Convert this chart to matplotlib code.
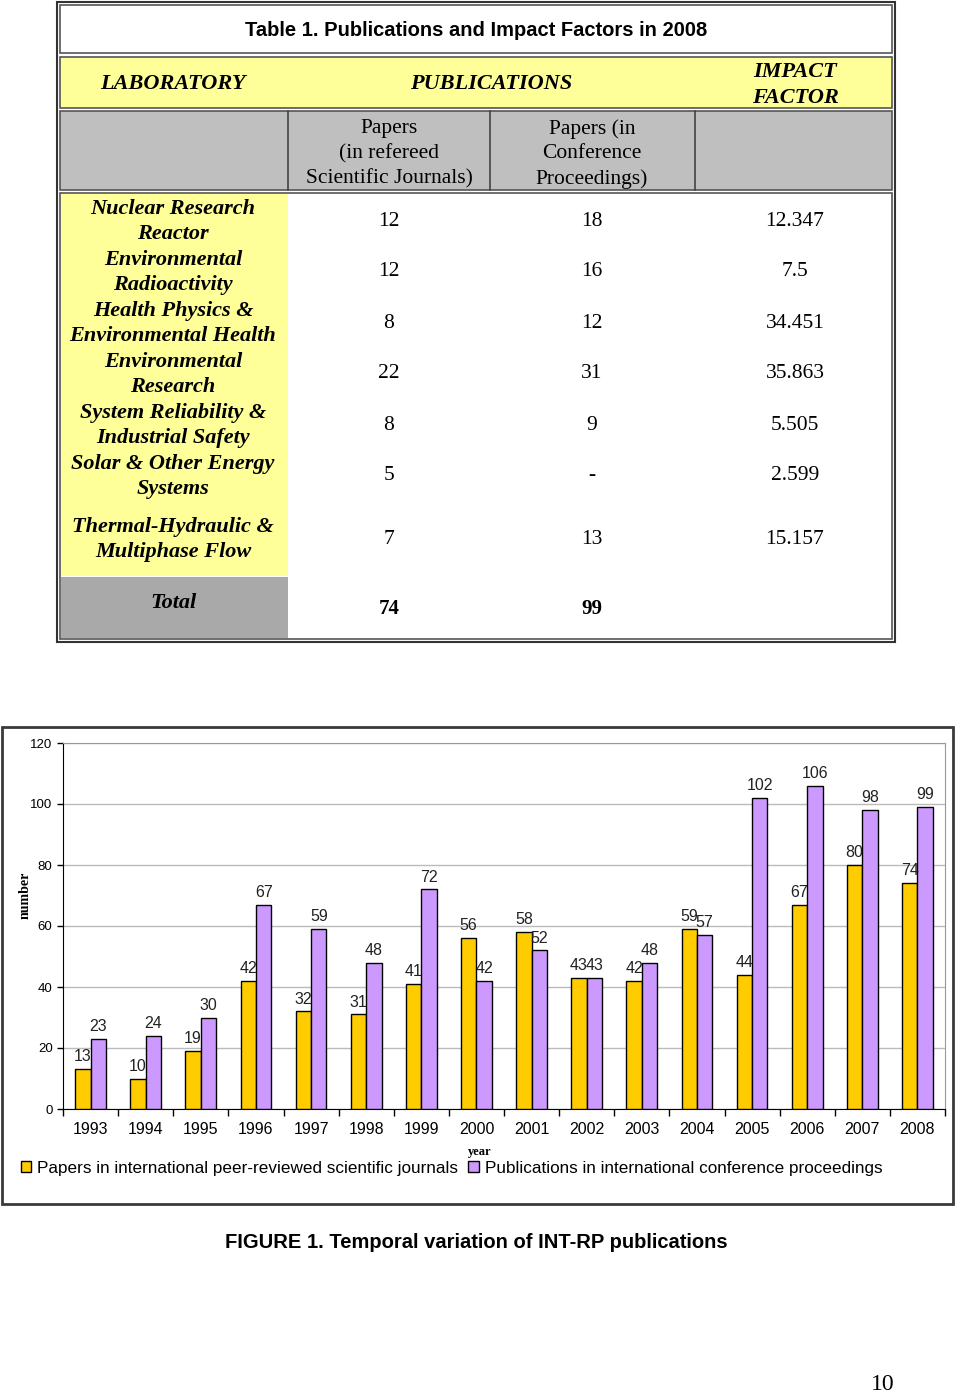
import matplotlib
matplotlib.use("Agg")
import matplotlib.pyplot as plt
from matplotlib.patches import Rectangle, Patch
import numpy as np

# ---------------- data ----------------
table_title = "Table 1. Publications and Impact Factors in 2008"
labs = [["Nuclear Research", "Reactor"],
        ["Environmental", "Radioactivity"],
        ["Health Physics &", "Environmental Health"],
        ["Environmental", "Research"],
        ["System Reliability &", "Industrial Safety"],
        ["Solar & Other Energy", "Systems"],
        ["Thermal-Hydraulic &", "Multiphase Flow"]]
refereed = ["12", "12", "8", "22", "8", "5", "7"]
conference = ["18", "16", "12", "31", "9", "-", "13"]
impact = ["12.347", "7.5", "34.451", "35.863", "5.505", "2.599", "15.157"]
totals = ["74", "99"]

years = ["1993", "1994", "1995", "1996", "1997", "1998", "1999", "2000",
         "2001", "2002", "2003", "2004", "2005", "2006", "2007", "2008"]
journals = [13, 10, 19, 42, 32, 31, 41, 56, 58, 43, 42, 59, 44, 67, 80, 74]
proceedings = [23, 24, 30, 67, 59, 48, 72, 42, 52, 43, 48, 57, 102, 106, 98, 99]
legend_labels = ["Papers in international peer-reviewed scientific journals",
                 "Publications in international conference proceedings"]
caption = "FIGURE 1. Temporal variation of INT-RP publications"

# ---------------- figure ----------------
W, H = 960, 1400
fig = plt.figure(figsize=(W / 100, H / 100), dpi=100)
bg = fig.add_axes([0, 0, 1, 1])
bg.set_xlim(0, W)
bg.set_ylim(H, 0)
bg.axis("off")

YEL = "#FFFF99"
GRAY_H = "#BFBFBF"
GRAY_T = "#A9A9A9"
SERIF = "Liberation Serif"
SANS = "Liberation Sans"


def rect(x0, y0, x1, y1, fc="none", ec="none", lw=1.0, z=1):
    bg.add_patch(Rectangle((x0, y0), x1 - x0, y1 - y0, facecolor=fc,
                           edgecolor=ec, linewidth=lw, zorder=z))


def txt(x, y, s, size=14.5, family=SERIF, weight="normal", style="normal",
        ha="center"):
    bg.text(x, y + 2, s, fontsize=size, family=family, fontweight=weight,
            fontstyle=style, ha=ha, va="center", zorder=5)


# outer double border
rect(57, 2, 895, 642, ec="#333333", lw=1.5, z=3)
# title row
rect(60, 5, 892, 53, fc="white", ec="#555555", lw=1.2, z=2)
txt(476, 29, table_title, size=14.5, family=SANS, weight="bold")
# yellow header row
rect(60, 57, 892, 108, fc=YEL, ec="#555555", lw=1.2, z=2)
hdr = dict(size=16, weight="bold", style="italic")
txt(173, 82, "LABORATORY", **hdr)
txt(491, 82, "PUBLICATIONS", **hdr)
txt(795, 70, "IMPACT", **hdr)
txt(795, 96, "FACTOR", **hdr)
# gray header row
rect(60, 111, 892, 190, fc=GRAY_H, ec="#555555", lw=1.2, z=2)
for xv in (288, 490, 695):
    bg.plot([xv, xv], [111, 190], color="#444444", lw=1.2, zorder=3)
for i, s in enumerate(["Papers", "(in refereed", "Scientific Journals)"]):
    txt(389, 127 + 25 * i, s, size=15.5)
for i, s in enumerate(["Papers (in", "Conference", "Proceedings)"]):
    txt(592, 127 + 25 * i, s, size=15.5)
# data area
rect(60, 193, 892, 639, fc="white", ec="#555555", lw=1.2, z=2)
rect(61, 194, 288, 576, fc=YEL, z=2)
rect(61, 577, 288, 638, fc=GRAY_T, z=2)

lab_y = [207, 258, 309, 360, 411, 462, 525]
val_y = [219, 270, 321, 372, 423, 474, 538]
for i in range(len(labs)):
    for j, line in enumerate(labs[i]):
        txt(173, lab_y[i] + 25 * j, line, size=16, weight="bold",
            style="italic")
    txt(389, val_y[i], refereed[i], size=15.5)
    txt(592, val_y[i], conference[i], size=15.5)
    txt(795, val_y[i], impact[i], size=15.5)
txt(173, 601, "Total", size=16, weight="bold", style="italic")
txt(389, 607, totals[0], size=15, weight="bold")
txt(592, 607, totals[1], size=15, weight="bold")

# chart frame
rect(2, 727, 953, 1204, fc="white", ec="#3a3a3a", lw=2.0, z=1)

# caption and page number
txt(476, 1240, caption, size=14.5, family=SANS, weight="bold")
txt(883, 1383, "10", size=17, family=SERIF)

# ---------------- bar chart ----------------
ax_l, ax_r, ax_t, ax_b = 63, 945, 743, 1109
ax = fig.add_axes([ax_l / W, 1 - ax_b / H, (ax_r - ax_l) / W, (ax_b - ax_t) / H])
x = np.arange(len(years))
bw = 0.28
GOLD = "#FFCC00"
PURP = "#CC99FF"
b1 = ax.bar(x - bw / 2, journals, bw, color=GOLD, edgecolor="black", lw=1.0,
            zorder=3)
b2 = ax.bar(x + bw / 2, proceedings, bw, color=PURP, edgecolor="black", lw=1.0,
            zorder=3)
ax.bar_label(b1, padding=3.5, fontsize=11.5, family=SANS, color="#222222")
ax.bar_label(b2, padding=3.5, fontsize=11.5, family=SANS, color="#222222")

ax.set_xlim(-0.5, len(years) - 0.5)
ax.set_ylim(0, 120)
ax.set_yticks(np.arange(0, 121, 20))
ax.tick_params(axis="y", labelsize=9.5, length=4, width=1, color="black")
for lab in ax.get_yticklabels():
    lab.set_family(SANS)
ax.set_xticks(x)
ax.set_xticklabels(years, fontsize=11.5, family=SANS)
ax.tick_params(axis="x", length=0, pad=9)
ax.set_xticks(np.arange(-0.5, len(years), 1.0), minor=True)
ax.tick_params(axis="x", which="minor", length=5, width=1, color="black")
ax.grid(axis="y", color="#BBBBBB", lw=1.0, zorder=0)
ax.set_axisbelow(True)
ax.spines["left"].set_color("black")
ax.spines["bottom"].set_color("black")
ax.spines["top"].set_color("#999999")
ax.spines["right"].set_color("#999999")

fig.text(25 / W, 1 - 895 / H, "number", rotation=90, fontsize=10,
         family=SERIF, fontweight="bold", ha="center", va="center")
fig.text(480 / W, 1 - 1152 / H, "year", fontsize=9, family=SERIF,
         fontweight="bold", ha="center", va="center")

handles = [Patch(facecolor=GOLD, edgecolor="black"),
           Patch(facecolor=PURP, edgecolor="black")]
fig.legend(handles, legend_labels, loc="center left",
           bbox_to_anchor=(14 / W, 1 - 1168 / H), ncol=2, frameon=False,
           prop={"family": SANS, "size": 12.3}, handlelength=0.6,
           handleheight=0.6, handletextpad=0.35, columnspacing=0.6,
           borderaxespad=0)

fig.savefig("out.png", dpi=100)
